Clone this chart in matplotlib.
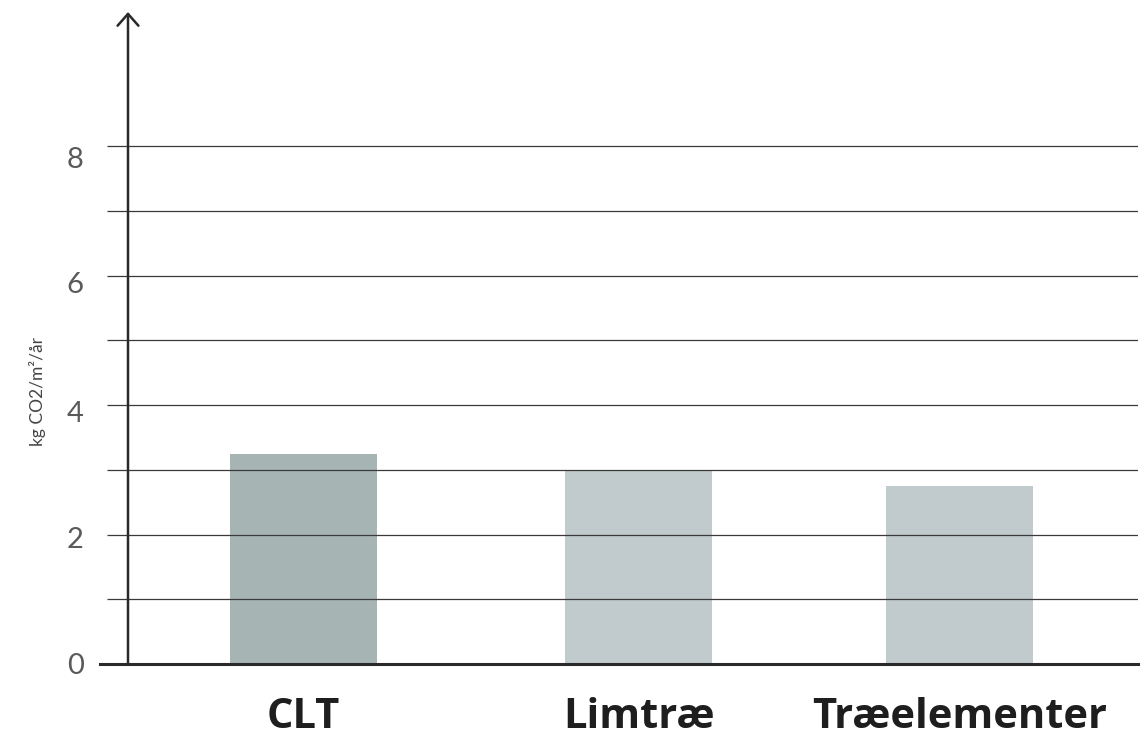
import matplotlib
matplotlib.use("Agg")
import matplotlib.pyplot as plt
import matplotlib.transforms as mtransforms
from matplotlib.lines import Line2D

# Data
categories = ["CLT", "Limtræ", "Træelementer"]
values = [3.24, 3.0, 2.75]
positions = [0.0, 1.0, 1.958]
bar_colors = ["#a7b4b4", "#c1cacc", "#c1cacc"]
y_ticks = [0, 1, 2, 3, 4, 5, 6, 7, 8]
y_tick_labels = ["0", "", "2", "", "4", "", "6", "", "8"]
y_label = "kg CO2/m²/år"

W, H = 1144, 738
fig = plt.figure(figsize=(W / 100, H / 100), dpi=100)
fig.patch.set_facecolor("white")

# axes box in pixels: left 128, right 1138, bottom 664, top 12
ax = fig.add_axes([128 / W, 1 - 664 / H, (1138 - 128) / W, (664 - 12) / H])
ax.set_facecolor("white")

ax.bar(positions, values, width=0.439, color=bar_colors, zorder=1)

ax.set_xlim(-0.524, 2.491)
ax.set_ylim(0, 652 / 64.75)

grid_color = "#3a3a3a"
ax.set_yticks(y_ticks)
ax.set_yticklabels(y_tick_labels, fontfamily="Lato", fontweight="normal",
                   fontsize=21, color="#5a5a5a")
ax.tick_params(axis="y", length=15, width=0.9, color=grid_color, pad=17)
ax.grid(axis="y", color=grid_color, linewidth=0.9, zorder=3)
ax.set_axisbelow(False)

# the value labels sit slightly lower than their gridlines, more so higher up
label_drop_px = {0: -1, 2: 3, 4: 6, 6: 7, 8: 11}
for tick_val, lab in zip(y_ticks, ax.get_yticklabels()):
    dy = label_drop_px.get(tick_val, 0)
    lab.set_transform(lab.get_transform() +
                      mtransforms.ScaledTranslation(0, -dy / 100, fig.dpi_scale_trans))

ax.set_xticks(positions)
ax.set_xticklabels(categories, fontfamily="Open Sans", fontweight="bold",
                   fontsize=30, color="#1e1e1e")
ax.tick_params(axis="x", length=0, pad=24)

for s in ax.spines.values():
    s.set_visible(False)

# baseline, extending a little left of the vertical axis
ax.add_line(Line2D([-28 / 1010, 1.0], [0, 0], transform=ax.transAxes,
                   color="#2a2a2a", linewidth=2.2, clip_on=False, zorder=4))

# vertical axis with open arrow head
ax.annotate("", xy=(0, 1.0), xytext=(0, 0), xycoords="axes fraction",
            textcoords="axes fraction",
            arrowprops=dict(arrowstyle="->,head_length=0.85,head_width=0.75",
                            color="#2a2a2a", linewidth=1.8,
                            shrinkA=0, shrinkB=0),
            zorder=5, annotation_clip=False)

fig.text(38 / W, 1 - 392 / H, y_label, rotation=90, ha="center", va="center",
         fontfamily="Lato", fontweight="normal", fontsize=12.5, color="#444444")

fig.savefig("out.png", dpi=100, facecolor="white")
